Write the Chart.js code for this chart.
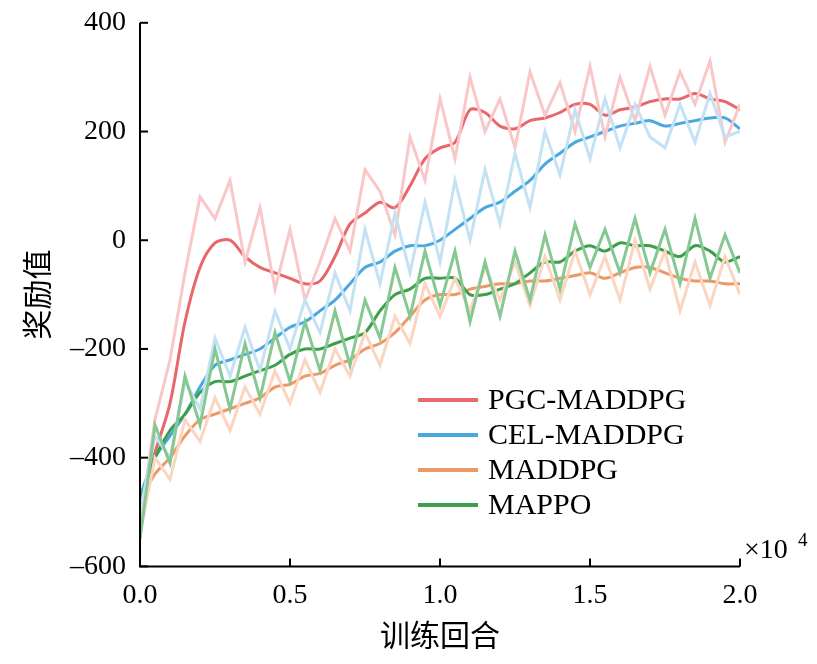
<!DOCTYPE html>
<html><head><meta charset="utf-8">
<script src="https://cdn.jsdelivr.net/npm/chart.js@4"></script>
<style>body{margin:0;background:#fff}#wrap{width:817px;height:664px}</style>
</head><body><div id="wrap"><canvas id="c"></canvas></div>
<script>
const xs = [0,0.05,0.1,0.15,0.2,0.25,0.3,0.35,0.4,0.45,0.5,0.55,0.6,0.65,0.7,0.75,0.8,0.85,0.9,0.95,1.0,1.05,1.1,1.15,1.2,1.25,1.3,1.35,1.4,1.45,1.5,1.55,1.6,1.65,1.7,1.75,1.8,1.85,1.9,1.95,2.0];
const pgc = [-480,-390,-300,-150,-50,-5,0,-30,-50,-60,-70,-80,-75,-30,30,50,70,60,100,150,170,180,240,235,210,205,220,225,235,250,250,230,240,245,255,260,260,270,260,255,240];
const pgcRaw = [-520,-330,-220,-60,80,40,110,-40,60,-90,20,-110,-40,40,-20,130,90,10,190,110,260,150,300,200,260,170,310,230,290,200,320,190,300,220,320,230,310,250,330,180,250];
const cel = [-470,-400,-360,-320,-270,-230,-220,-210,-200,-180,-160,-150,-130,-110,-80,-50,-40,-20,-10,-10,0,20,40,60,70,90,110,140,160,180,190,200,210,215,220,210,215,220,225,225,205];
const celRaw = [-500,-360,-400,-260,-310,-180,-250,-160,-240,-130,-200,-110,-170,-60,-130,20,-80,50,-60,70,-40,110,0,130,30,160,60,200,120,240,150,260,170,250,190,170,250,180,270,190,200];
const mad = [-480,-430,-400,-360,-330,-320,-310,-300,-290,-270,-265,-250,-245,-230,-220,-200,-190,-170,-140,-110,-100,-100,-90,-85,-80,-80,-75,-75,-70,-65,-60,-70,-60,-50,-50,-60,-70,-75,-75,-80,-80];
const madRaw = [-540,-400,-440,-330,-370,-290,-350,-270,-320,-240,-300,-220,-280,-200,-250,-170,-230,-140,-190,-80,-140,-70,-130,-50,-110,-40,-120,-30,-110,-20,-100,-30,-110,0,-90,-20,-130,-40,-120,-30,-100];
const mappo = [-480,-400,-350,-320,-280,-260,-260,-250,-240,-230,-210,-200,-200,-190,-180,-170,-130,-100,-90,-70,-70,-70,-100,-100,-90,-80,-60,-40,-40,-20,-10,-20,-5,-10,-10,-20,-30,-10,-20,-40,-30];
const mappoRaw = [-550,-340,-410,-250,-340,-200,-310,-190,-290,-170,-260,-150,-240,-130,-230,-110,-180,-50,-140,-20,-120,-20,-150,-40,-140,-20,-110,10,-90,30,-50,20,-60,40,-60,20,-80,40,-70,10,-60];
const names = ['PGC-MADDPG','CEL-MADDPG','MADDPG','MAPPO'];
const dark = ['#e8676b','#49a9df','#ee9868','#3d9f4a'];
const light = ['#f9c7c8','#c3e2f4','#fad5bf','#86c891'];
const smooth = [pgc, cel, mad, mappo];
const raws = [pgcRaw, celRaw, madRaw, mappoRaw];
const pts = a => a.map((v,i)=>({x:xs[i], y:v}));
const datasets = [];
[3,2,1,0].forEach(i=>datasets.push({data:pts(raws[i]), borderColor:light[i], borderWidth:3, pointRadius:0, tension:0}));
[3,2,1,0].forEach(i=>datasets.push({data:pts(smooth[i]), borderColor:dark[i], borderWidth:3, pointRadius:0, tension:0.3}));
const F = '"Liberation Serif", "Noto Sans CJK SC", serif';
const deco = {
  id:'deco',
  afterDraw(ch){
    const c = ch.ctx, a = ch.chartArea, sx = ch.scales.x, sy = ch.scales.y;
    c.save();
    c.strokeStyle = '#000'; c.lineWidth = 2;
    c.beginPath(); c.moveTo(a.left,a.top); c.lineTo(a.left,a.bottom); c.lineTo(a.right,a.bottom); c.stroke();
    [0,0.5,1,1.5,2].forEach(v=>{const p=sx.getPixelForValue(v); c.beginPath(); c.moveTo(p,a.bottom); c.lineTo(p,a.bottom-8); c.stroke();});
    [-600,-400,-200,0,200,400].forEach(v=>{const p=sy.getPixelForValue(v); c.beginPath(); c.moveTo(a.left,p); c.lineTo(a.left+8,p); c.stroke();});
    c.fillStyle='#000'; c.font='28px '+F; c.textBaseline='alphabetic';
    c.fillText('\u00d710', a.right+4, a.bottom-8);
    c.font='19px '+F; c.fillText('4', a.right+58, a.bottom-20);
    c.font='30px '+F; c.textBaseline='middle';
    names.forEach((n,i)=>{
      const y = 400 + i*35;
      c.strokeStyle=dark[i]; c.lineWidth=4;
      c.beginPath(); c.moveTo(418,y); c.lineTo(478,y); c.stroke();
      c.fillText(n, 488, y+1);
    });
    c.restore();
  }
};
new Chart(document.getElementById('c'), {
  type:'line',
  data:{datasets},
  options:{
    responsive:true, maintainAspectRatio:false, animation:false,
    layout:{padding:{left:18,right:77,top:15,bottom:4}},
    plugins:{legend:{display:false}, tooltip:{enabled:false}},
    scales:{
      x:{type:'linear', min:0, max:2, border:{display:false}, grid:{display:false},
        ticks:{stepSize:0.5, color:'#000', font:{family:F,size:28}, padding:4, callback:v=>v.toFixed(1)},
        title:{display:true, text:'训练回合', color:'#000', font:{family:F,size:30}, padding:{top:4}}},
      y:{min:-600, max:400, border:{display:false}, grid:{display:false},
        ticks:{stepSize:200, color:'#000', font:{family:F,size:28}, padding:6, callback:v=>v<0?'\u2013'+Math.abs(v):v},
        title:{display:true, text:'奖励值', color:'#000', font:{family:F,size:30}, padding:{bottom:6}}}
    }
  },
  plugins:[deco]
});
</script></body></html>
